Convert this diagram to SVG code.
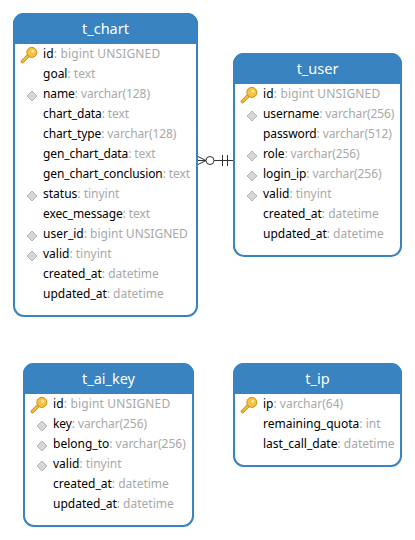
<svg xmlns="http://www.w3.org/2000/svg" xmlns:xlink="http://www.w3.org/1999/xlink" width="415" height="540" viewBox="0 0 415 540">
<style>
text{font-family:"Noto Sans","Open Sans",sans-serif;font-size:12px;fill:#000}
.t{font-size:14.5px;fill:#fff;text-anchor:middle}
.g{fill:#a8a8a8}
.w{letter-spacing:.15px}
.n{letter-spacing:-.1px}
.box{fill:#fff;stroke:#3883c0;stroke-width:2}
.hd{fill:#3883c0}
.c{fill:none;stroke:#333;stroke-width:1}
</style>
<defs>
<g id="key"><path d="M-6.500 6.500L-1.500 1.500" stroke="#c98a10" stroke-width="3.600" stroke-linecap="round" fill="none"/><path d="M-6.500 6.500L-1.500 1.500" stroke="#f4c040" stroke-width="1.800" stroke-linecap="round" fill="none"/><circle cx="2.800" cy="-2.600" r="5" fill="#f6c445" stroke="#c98a10"/><circle cx="3.800" cy="-3.800" r="1.500" fill="#fbe9a8"/></g>
<path id="d" d="M0 -5L5 0L0 5L-5 0Z" fill="#d6d6d6" stroke="#b5b5b5"/>
</defs>
<g id="connectors">
<path class="c" d="M197 160.500H234"/>
<path class="c" d="M197 156L206 160.500L197 165"/>
<circle class="c" cx="210" cy="160.500" r="4" style="fill:#fff"/>
<path class="c" d="M222.500 155V166M227.500 155V166"/>
</g>
<g id="t_chart">
<rect class="box" x="14" y="14" width="183" height="302" rx="10"/>
<path class="hd" d="M13 44V24a11 11 0 0 1 11-11H187a11 11 0 0 1 11 11V44Z"/>
<text class="t" x="105.500" y="34">t_chart</text>
<use xlink:href="#key" href="#key" x="29" y="55"/>
<text class="w" x="43" y="58">id<tspan class="g">: bigint UNSIGNED</tspan></text>
<text x="43" y="78">goal<tspan class="g">: text</tspan></text>
<use xlink:href="#d" href="#d" x="32" y="96"/>
<text class="n" x="43" y="98">name<tspan class="g">: varchar(128)</tspan></text>
<text class="n" x="43" y="118">chart_data<tspan class="g">: text</tspan></text>
<text class="n" x="43" y="138">chart_type<tspan class="g">: varchar(128)</tspan></text>
<text class="n" x="43" y="158">gen_chart_data<tspan class="g">: text</tspan></text>
<text class="n" x="43" y="178">gen_chart_conclusion<tspan class="g">: text</tspan></text>
<use xlink:href="#d" href="#d" x="32" y="196"/>
<text x="43" y="198">status<tspan class="g">: tinyint</tspan></text>
<text class="n" x="43" y="218">exec_message<tspan class="g">: text</tspan></text>
<use xlink:href="#d" href="#d" x="32" y="236"/>
<text x="43" y="238">user_id<tspan class="g">: bigint UNSIGNED</tspan></text>
<use xlink:href="#d" href="#d" x="32" y="256"/>
<text x="43" y="258">valid<tspan class="g">: tinyint</tspan></text>
<text x="43" y="278">created_at<tspan class="g">: datetime</tspan></text>
<text x="43" y="298">updated_at<tspan class="g">: datetime</tspan></text>
</g>
<g id="t_user">
<rect class="box" x="234" y="54" width="167" height="202" rx="10"/>
<path class="hd" d="M233 84V64a11 11 0 0 1 11-11H391a11 11 0 0 1 11 11V84Z"/>
<text class="t" x="317.500" y="74">t_user</text>
<use xlink:href="#key" href="#key" x="249" y="95"/>
<text class="w" x="263" y="98">id<tspan class="g">: bigint UNSIGNED</tspan></text>
<use xlink:href="#d" href="#d" x="252" y="116"/>
<text class="n" x="263" y="118">username<tspan class="g">: varchar(256)</tspan></text>
<text class="n" x="263" y="138">password<tspan class="g">: varchar(512)</tspan></text>
<use xlink:href="#d" href="#d" x="252" y="156"/>
<text class="n" x="263" y="158">role<tspan class="g">: varchar(256)</tspan></text>
<use xlink:href="#d" href="#d" x="252" y="176"/>
<text class="n" x="263" y="178">login_ip<tspan class="g">: varchar(256)</tspan></text>
<use xlink:href="#d" href="#d" x="252" y="196"/>
<text x="263" y="198">valid<tspan class="g">: tinyint</tspan></text>
<text x="263" y="218">created_at<tspan class="g">: datetime</tspan></text>
<text x="263" y="238">updated_at<tspan class="g">: datetime</tspan></text>
</g>
<g id="t_ai_key">
<rect class="box" x="24" y="364" width="169" height="162" rx="10"/>
<path class="hd" d="M23 394V374a11 11 0 0 1 11-11H183a11 11 0 0 1 11 11V394Z"/>
<text class="t" x="108.500" y="384">t_ai_key</text>
<use xlink:href="#key" href="#key" x="39" y="405"/>
<text class="w" x="53" y="408">id<tspan class="g">: bigint UNSIGNED</tspan></text>
<use xlink:href="#d" href="#d" x="42" y="426"/>
<text class="n" x="53" y="428">key<tspan class="g">: varchar(256)</tspan></text>
<use xlink:href="#d" href="#d" x="42" y="446"/>
<text x="53" y="448">belong_to<tspan class="g">: varchar(256)</tspan></text>
<use xlink:href="#d" href="#d" x="42" y="466"/>
<text x="53" y="468">valid<tspan class="g">: tinyint</tspan></text>
<text x="53" y="488">created_at<tspan class="g">: datetime</tspan></text>
<text x="53" y="508">updated_at<tspan class="g">: datetime</tspan></text>
</g>
<g id="t_ip">
<rect class="box" x="234" y="364" width="167" height="102" rx="10"/>
<path class="hd" d="M233 394V374a11 11 0 0 1 11-11H391a11 11 0 0 1 11 11V394Z"/>
<text class="t" x="317.500" y="384">t_ip</text>
<use xlink:href="#key" href="#key" x="249" y="405"/>
<text x="263" y="408">ip<tspan class="g">: varchar(64)</tspan></text>
<text x="263" y="428">remaining_quota<tspan class="g">: int</tspan></text>
<text x="263" y="448">last_call_date<tspan class="g">: datetime</tspan></text>
</g>
</svg>
